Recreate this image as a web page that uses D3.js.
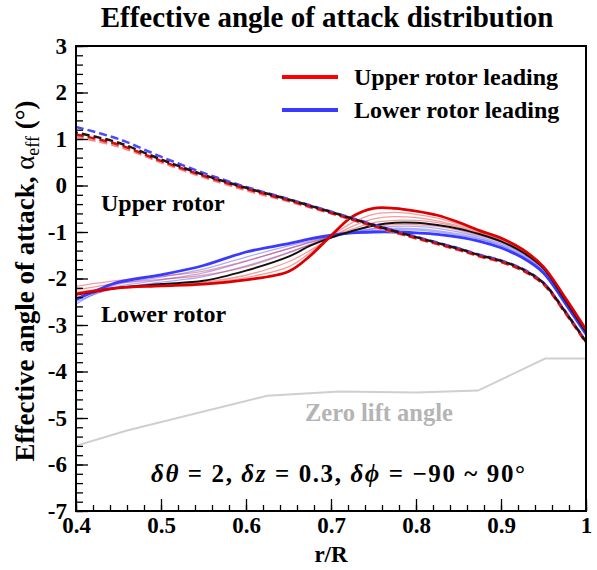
<!DOCTYPE html>
<html>
<head>
<meta charset="utf-8">
<script src="https://cdn.jsdelivr.net/npm/d3@7"></script>
<style>
  html, body { margin: 0; padding: 0; background: #fff; }
  svg { display: block; }
  text { font-family: "Liberation Serif", "Times New Roman", serif; font-weight: bold; }
</style>
</head>
<body>
<svg id="chart" width="597" height="570"></svg>
<script>
// ---- data ----
// lower rotor (solid) radial stations
const rSolid = [0.4, 0.425, 0.45, 0.5, 0.55, 0.6, 0.65, 0.675, 0.7, 0.725, 0.75, 0.775, 0.8, 0.825, 0.85, 0.875, 0.9, 0.925, 0.95, 0.975, 1.0];
const lowerUpperLead = [-2.33, -2.26, -2.2, -2.16, -2.12, -2.03, -1.85, -1.52, -1.08, -0.67, -0.49, -0.49, -0.55, -0.64, -0.79, -0.97, -1.13, -1.37, -1.75, -2.4, -3.1];
const lowerLowerLead = [-2.45, -2.25, -2.08, -1.92, -1.72, -1.43, -1.25, -1.15, -1.07, -1.02, -1.0, -1.0, -1.02, -1.05, -1.11, -1.2, -1.34, -1.55, -1.88, -2.52, -3.2];
const lowerMean = [-2.35, -2.27, -2.2, -2.12, -2.05, -1.83, -1.53, -1.3, -1.12, -0.98, -0.86, -0.8, -0.8, -0.85, -0.93, -1.05, -1.2, -1.43, -1.78, -2.45, -3.15];
const lowerRedPhases = [
  [-2.3, -2.24, -2.2, -2.15, -2.1, -1.98, -1.75, -1.45, -1.1, -0.8, -0.62, -0.58, -0.62, -0.7, -0.83, -0.99, -1.15, -1.39, -1.76, -2.42, -3.12],
  [-2.4, -2.3, -2.22, -2.15, -2.08, -1.93, -1.64, -1.4, -1.12, -0.88, -0.72, -0.67, -0.69, -0.76, -0.87, -1.01, -1.16, -1.4, -1.77, -2.43, -3.13],
  [-2.25, -2.17, -2.1, -2.02, -1.93, -1.75, -1.45, -1.27, -1.1, -0.94, -0.8, -0.75, -0.75, -0.8, -0.9, -1.03, -1.18, -1.41, -1.78, -2.44, -3.14],
  [-2.17, -2.1, -2.04, -1.95, -1.84, -1.62, -1.36, -1.22, -1.1, -0.98, -0.88, -0.84, -0.84, -0.88, -0.96, -1.08, -1.22, -1.45, -1.8, -2.46, -3.15]
];
const lowerBluePhases = [
  [-2.55, -2.3, -2.12, -1.97, -1.8, -1.54, -1.3, -1.19, -1.1, -1.02, -0.97, -0.95, -0.96, -1.0, -1.07, -1.16, -1.3, -1.52, -1.86, -2.5, -3.18],
  [-2.5, -2.32, -2.17, -2.03, -1.88, -1.63, -1.36, -1.23, -1.11, -1.01, -0.94, -0.92, -0.93, -0.97, -1.04, -1.14, -1.28, -1.5, -1.84, -2.49, -3.17],
  [-2.42, -2.3, -2.2, -2.08, -1.96, -1.73, -1.44, -1.28, -1.13, -1.01, -0.92, -0.88, -0.88, -0.92, -1.0, -1.11, -1.25, -1.47, -1.82, -2.48, -3.16]
];

// upper rotor (dashed) radial stations
const rDash = [0.4, 0.45, 0.5, 0.55, 0.6, 0.65, 0.7, 0.75, 0.8, 0.85, 0.875, 0.9, 0.925, 0.95, 0.975, 1.0];
const upperLightRed = [1.05, 0.84, 0.5, 0.18, -0.1, -0.34, -0.6, -0.88, -1.14, -1.39, -1.53, -1.65, -1.83, -2.13, -2.73, -3.38];
const upperRed = [1.1, 0.88, 0.53, 0.21, -0.07, -0.32, -0.59, -0.87, -1.13, -1.38, -1.52, -1.64, -1.82, -2.12, -2.72, -3.38];
const upperBlue = [1.26, 1.0, 0.62, 0.27, -0.03, -0.29, -0.56, -0.84, -1.1, -1.35, -1.49, -1.61, -1.79, -2.09, -2.69, -3.35];
const upperMean = [1.14, 0.92, 0.56, 0.23, -0.05, -0.3, -0.57, -0.85, -1.11, -1.36, -1.5, -1.62, -1.8, -2.1, -2.7, -3.36];

// zero-lift angle of the airfoil sections
const rZero = [0.4, 0.46, 0.625, 0.71, 0.8, 0.873, 0.952, 1.0];
const zeroLift = [-5.6, -5.27, -4.52, -4.43, -4.45, -4.41, -3.72, -3.72];

// axis ticks
const xMajor = [0.4, 0.5, 0.6, 0.7, 0.8, 0.9, 1.0];
const yMajor = [-7, -6, -5, -4, -3, -2, -1, 0, 1, 2, 3];

// ---- layout ----
const svg = d3.select("#chart");
const x = d3.scaleLinear().domain([0.4, 1.0]).range([76, 586]);
const y = d3.scaleLinear().domain([-7, 3]).range([511, 46]);

svg.append("defs").append("clipPath").attr("id", "clip")
  .append("rect").attr("x", 76).attr("y", 46).attr("width", 510).attr("height", 465);
const plot = svg.append("g").attr("clip-path", "url(#clip)");

const line = (rs) => d3.line()
  .x((d, i) => x(rs[i]))
  .y(d => y(d))
  .curve(d3.curveCatmullRom.alpha(0.5));

function draw(rs, vals, color, width, dash, offset) {
  plot.append("path")
    .attr("d", line(rs)(vals))
    .attr("fill", "none")
    .attr("stroke", color)
    .attr("stroke-width", width)
    .attr("stroke-dasharray", dash || null)
    .attr("stroke-dashoffset", offset || 0)
    .attr("stroke-linejoin", "round");
}

// zero-lift line
plot.append("path")
  .attr("d", d3.line().x((d, i) => x(rZero[i])).y(d => y(d))(zeroLift))
  .attr("fill", "none").attr("stroke", "#cfcfcf").attr("stroke-width", 2);

// lower rotor, phase sweep
lowerBluePhases.forEach(v => draw(rSolid, v, "rgba(70,70,255,0.45)", 1.3));
lowerRedPhases.forEach(v => draw(rSolid, v, "rgba(225,40,40,0.45)", 1.3));
draw(rSolid, lowerLowerLead, "#3a3aff", 2.8);
draw(rSolid, lowerMean, "#111", 2);
draw(rSolid, lowerUpperLead, "#dd0000", 2.8);

// upper rotor (dashed)
draw(rDash, upperLightRed, "#f08a8a", 2.5, "8,4");
draw(rDash, upperBlue, "#4a4aff", 2.5, "8,4");
draw(rDash, upperRed, "#d41010", 2.5, "8,4");
draw(rDash, upperMean, "#2a1010", 2.5, "8,4", 6);

// ---- axes ----
const fmt = d => (d < 0 ? "-" + Math.abs(d) : d3.format("~g")(d));

const xAxis = svg.append("g").attr("transform", "translate(0,511)")
  .call(d3.axisBottom(x).tickValues(xMajor).tickSize(-12).tickPadding(6).tickFormat(fmt));
svg.append("g").attr("transform", "translate(0,511)")
  .call(d3.axisBottom(x).tickValues(d3.range(0.4, 1.0001, 0.02)).tickSize(-6).tickFormat(""));
const yAxis = svg.append("g").attr("transform", "translate(76,0)")
  .call(d3.axisLeft(y).tickValues(yMajor).tickSize(-12).tickPadding(9).tickFormat(fmt));
svg.append("g").attr("transform", "translate(76,0)")
  .call(d3.axisLeft(y).tickValues(d3.range(-7, 3.0001, 0.2)).tickSize(-7).tickFormat(""));

svg.selectAll(".domain").remove();
svg.selectAll(".tick line").attr("stroke", "#000").attr("stroke-width", 1.3);
xAxis.selectAll("text").attr("font-size", 23).attr("fill", "#000")
  .attr("font-family", "Liberation Serif").attr("font-weight", "bold");
yAxis.selectAll("text").attr("font-size", 23).attr("fill", "#000")
  .attr("font-family", "Liberation Serif").attr("font-weight", "bold");

// frame
svg.append("rect").attr("x", 76).attr("y", 46).attr("width", 510).attr("height", 465)
  .attr("fill", "none").attr("stroke", "#000").attr("stroke-width", 2);

// ---- text ----
svg.append("text").attr("x", 327).attr("y", 27).attr("text-anchor", "middle")
  .attr("font-size", 29).text("Effective angle of attack distribution");

svg.append("text").attr("x", 331).attr("y", 562).attr("text-anchor", "middle")
  .attr("font-size", 23).text("r/R");

const yt = svg.append("text").attr("transform", "translate(34,281) rotate(-90)")
  .attr("text-anchor", "middle").attr("font-size", 27);
yt.append("tspan").text("Effective angle of attack, ");
yt.append("tspan").attr("font-weight", "normal").text("α");
yt.append("tspan").attr("font-size", 18).attr("dy", 5).attr("font-weight", "normal").text("eff");
yt.append("tspan").attr("dy", -5).text(" (°)");

// legend
const legend = [
  { label: "Upper rotor leading", color: "#ff0000", yy: 77 },
  { label: "Lower rotor leading", color: "#3a3aff", yy: 110 }
];
legend.forEach(l => {
  svg.append("line").attr("x1", 282).attr("x2", 338).attr("y1", l.yy).attr("y2", l.yy)
    .attr("stroke", l.color).attr("stroke-width", 4);
  svg.append("text").attr("x", 354).attr("y", l.yy + 8).attr("font-size", 24).text(l.label);
});

svg.append("text").attr("x", 101).attr("y", 211).attr("font-size", 24).text("Upper rotor");
svg.append("text").attr("x", 101).attr("y", 322).attr("font-size", 24).text("Lower rotor");
svg.append("text").attr("x", 305).attr("y", 421).attr("font-size", 24.5).attr("fill", "#b4b4b4")
  .text("Zero lift angle");

// operating-condition annotation
const f = svg.append("text").attr("x", 151).attr("y", 482).attr("font-size", 25)
  .attr("textLength", 374).attr("lengthAdjust", "spacing");
f.append("tspan").attr("font-style", "italic").text("δθ");
f.append("tspan").text(" = 2, ");
f.append("tspan").attr("font-style", "italic").text("δz");
f.append("tspan").text(" = 0.3, ");
f.append("tspan").attr("font-style", "italic").text("δϕ");
f.append("tspan").text(" = −90 ~ 90°");
</script>
</body>
</html>
